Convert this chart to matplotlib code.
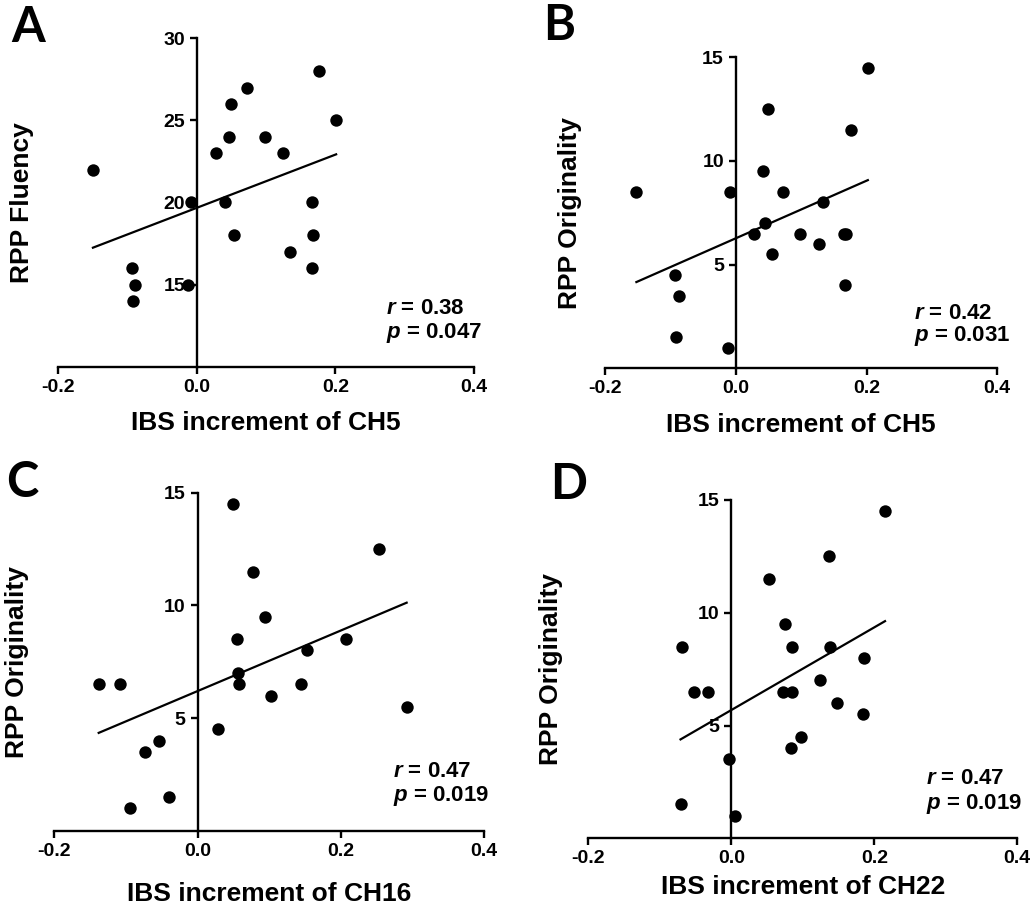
"""Scatter plots of IBS increment against RPP scores, with linear fits."""

import matplotlib

matplotlib.use("Agg")

import matplotlib.pyplot as plt

import numpy as np


plt.rcParams["font.family"] = ["Liberation Sans", "DejaVu Sans"]
plt.rcParams["mathtext.fontset"] = "custom"
plt.rcParams["mathtext.it"] = "Liberation Sans:italic:bold"
plt.rcParams["mathtext.rm"] = "Liberation Sans:bold"

# Panel A: CH5 vs fluency
a_x = [-0.150, -0.093, -0.089, -0.092, -0.013, -0.009, 0.027, 0.041, 0.046, 0.049,
       0.054, 0.072, 0.099, 0.125, 0.134, 0.166, 0.167, 0.166, 0.176, 0.201]
a_y = [22, 16, 15, 14, 15, 20, 23, 20, 24, 26,
       18, 27, 24, 23, 17, 20, 18, 16, 28, 25]

# Panel B: CH5 vs originality
b_x = [-0.152, -0.093, -0.087, -0.091, -0.012, -0.009, 0.028, 0.042, 0.045, 0.049,
       0.055, 0.073, 0.099, 0.127, 0.134, 0.165, 0.169, 0.167, 0.176, 0.202]
b_y = [8.5, 4.5, 3.5, 1.5, 1.0, 8.5, 6.5, 9.5, 7.0, 12.5,
       5.5, 8.5, 6.5, 6.0, 8.0, 6.5, 6.5, 4.0, 11.5, 14.5]

# Panel C: CH16 vs originality
c_x = [-0.138, -0.108, -0.094, -0.074, -0.054, -0.040, 0.028, 0.049, 0.055, 0.056,
       0.058, 0.077, 0.094, 0.103, 0.145, 0.153, 0.207, 0.254, 0.292]
c_y = [6.5, 6.5, 1.0, 3.5, 4.0, 1.5, 4.5, 14.5, 8.5, 7.0,
       6.5, 11.5, 9.5, 6.0, 6.5, 8.0, 8.5, 12.5, 5.5]

# Panel D: CH22 vs originality
d_x = [-0.069, -0.071, -0.052, -0.033, -0.003, 0.005, 0.053, 0.075, 0.073, 0.085,
       0.085, 0.084, 0.097, 0.124, 0.137, 0.138, 0.148, 0.185, 0.184, 0.215]
d_y = [8.5, 1.5, 6.5, 6.5, 3.5, 1.0, 11.5, 9.5, 6.5, 8.5,
       6.5, 4.0, 4.5, 7.0, 12.5, 8.5, 6.0, 8.0, 5.5, 14.5]

PANEL_LETTERS = ["A", "B", "C", "D"]
X_LABELS = ["IBS increment of CH5", "IBS increment of CH5",
            "IBS increment of CH16", "IBS increment of CH22"]
Y_LABELS = ["RPP Fluency", "RPP Originality", "RPP Originality", "RPP Originality"]
R_VALUES = ["0.38", "0.42", "0.47", "0.47"]
P_VALUES = ["0.047", "0.031", "0.019", "0.019"]
Y_LIMITS = [(10, 30), (0, 15), (0, 15), (0, 15)]
Y_TICKS = [[15, 20, 25, 30], [5, 10, 15], [5, 10, 15], [5, 10, 15]]
X_TICKS = [-0.2, 0.0, 0.2, 0.4]

# axes rectangles in pixels: left, top, right, bottom
RECTS_PX = [
    (58.3, 38.3, 474.0, 366.7),
    (605.0, 57.3, 997.3, 368.3),
    (54.3, 492.7, 484.0, 830.7),
    (588.3, 500.0, 1017.3, 838.3),
]
XLABEL_TOP = [-0.135, -0.144, -0.152, -0.108]
LETTER_PX = [(11, 5), (543, 3), (6, 460), (550, 462)]

W, H = 1033, 918


def draw_panel(fig, idx, xs, ys):
    left, top, right, bottom = RECTS_PX[idx]
    ax = fig.add_axes([left / W, 1 - bottom / H, (right - left) / W, (bottom - top) / H])
    ax.set_xlim(-0.2, 0.4)
    ax.set_ylim(*Y_LIMITS[idx])

    ax.scatter(xs, ys, s=80, color="black", zorder=3, clip_on=False, linewidths=0)

    slope, icpt = np.polyfit(xs, ys, 1)
    fx = np.array([min(xs), max(xs)])
    ax.plot(fx, slope * fx + icpt, color="black", linewidth=1.6, zorder=3)

    for side in ["top", "right"]:
        ax.spines[side].set_visible(False)
    ax.spines["left"].set_position(("data", 0))
    for side in ["left", "bottom"]:
        ax.spines[side].set_linewidth(1.7)

    ax.set_xticks(X_TICKS)
    ax.set_xticklabels([f"{t:.1f}" for t in X_TICKS])
    ax.set_yticks(Y_TICKS[idx])
    ax.tick_params(axis="both", direction="out", width=1.7, length=5,
                   labelsize=14, pad=3.5)
    for lab in ax.get_xticklabels() + ax.get_yticklabels():
        lab.set_fontweight("bold")

    ax.set_xlabel(X_LABELS[idx], fontsize=19, fontweight="bold")
    ax.xaxis.set_label_coords(0.5, XLABEL_TOP[idx])
    ax.set_ylabel(Y_LABELS[idx], fontsize=19, fontweight="bold")
    ax.yaxis.set_label_coords(-0.058, 0.5)

    ax.text(0.788, 0.16, f"$r$ = {R_VALUES[idx]}", transform=ax.transAxes,
            fontsize=16, fontweight="bold", va="baseline")
    ax.text(0.788, 0.088, f"$p$ = {P_VALUES[idx]}", transform=ax.transAxes,
            fontsize=16, fontweight="bold", va="baseline")

    lx, ly = LETTER_PX[idx]
    fig.text(lx / W, 1 - ly / H, PANEL_LETTERS[idx], fontsize=35, fontweight="bold",
             family=["Lato", "DejaVu Sans"], va="top", ha="left")
    return ax


def main():
    fig = plt.figure(figsize=(W / 100, H / 100), dpi=100)
    fig.patch.set_facecolor("white")
    data = [(a_x, a_y), (b_x, b_y), (c_x, c_y), (d_x, d_y)]
    for idx, (xs, ys) in enumerate(data):
        draw_panel(fig, idx, xs, ys)
    fig.savefig("out.png", dpi=100)
    plt.close(fig)


if __name__ == "__main__":
    main()
